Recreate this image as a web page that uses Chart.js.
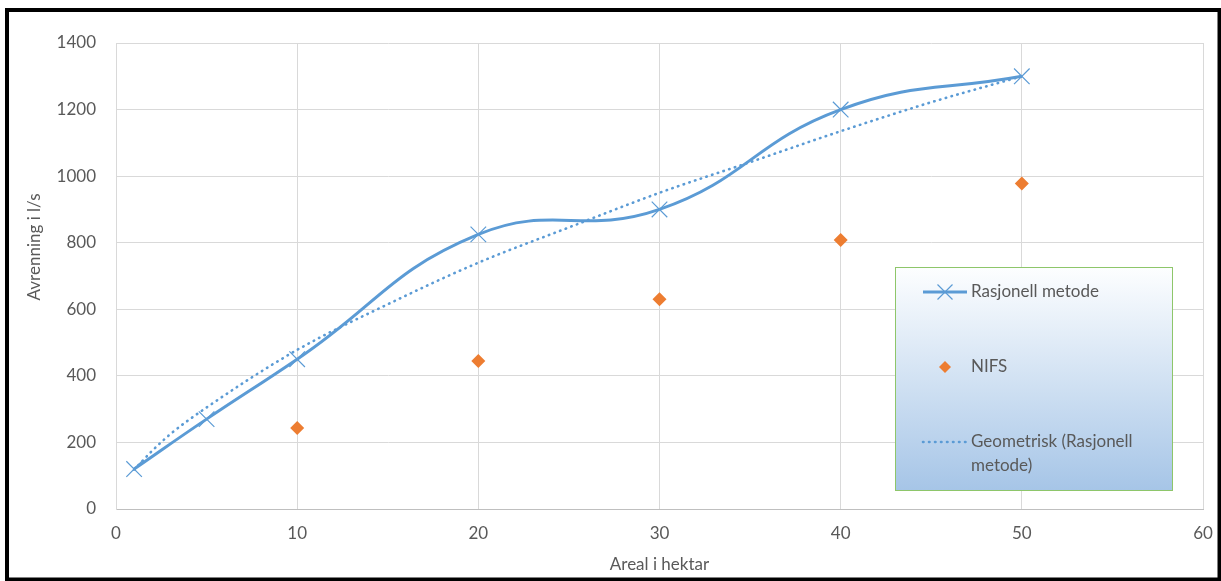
<!DOCTYPE html>
<html lang="no">
<head>
<meta charset="utf-8">
<title>Avrenning i l/s</title>
<script src="https://cdn.jsdelivr.net/npm/chart.js@4.4.1/dist/chart.umd.min.js"></script>
<style>
  html, body { margin: 0; padding: 0; background: #ffffff; }
  canvas { display: block; }
</style>
</head>
<body>
<canvas id="chart" width="1221" height="581"></canvas>
<script>
// Areal (hektar) og avrenning (l/s)
const areal = [1, 5, 10, 20, 30, 40, 50];
const rasjonell = [120, 270, 450, 825, 900, 1200, 1300];

const nifsAreal = [10, 20, 30, 40, 50];
const nifs = [243, 445, 630, 808, 978];

// Geometrisk trendlinje for rasjonell metode
const trendAreal = [1, 2, 3, 5, 10, 15, 20, 25, 30, 35, 40, 45, 50];
const trendVerdi = [118, 175, 225, 305, 478, 615, 740, 846, 950, 1042, 1135, 1222, 1300];

const xTicks = [0, 10, 20, 30, 40, 50, 60];
const yTicks = [0, 200, 400, 600, 800, 1000, 1200, 1400];

const seriesNames = ['Rasjonell metode', 'NIFS', 'Geometrisk (Rasjonell metode)'];
const xTitle = 'Areal i hektar';
const yTitle = 'Avrenning i l/s';

const BLUE = '#5b9bd5';
const ORANGE = '#ed7d31';
const TEXT = '#595959';
const FONT = 'Lato, "Open Sans", sans-serif';

const toPoints = (xs, ys) => xs.map((x, i) => ({ x: x, y: ys[i] }));

// Legend box drawn inside the plot area, with a soft blue gradient
const boxLegend = {
  id: 'boxLegend',
  afterDatasetsDraw(chart) {
    const ctx = chart.ctx;
    const x = 895.5, y = 267.5, w = 277, h = 223;
    ctx.save();
    const g = ctx.createLinearGradient(0, y, 0, y + h);
    g.addColorStop(0, '#fdfeff');
    g.addColorStop(0.5, '#d2e2f3');
    g.addColorStop(1, '#a6c5e7');
    ctx.fillStyle = g;
    ctx.fillRect(x, y, w, h);
    ctx.strokeStyle = '#8ec66a';
    ctx.lineWidth = 1;
    ctx.strokeRect(x, y, w, h);

    ctx.font = '17px ' + FONT;
    ctx.fillStyle = TEXT;
    ctx.textAlign = 'left';
    ctx.textBaseline = 'middle';
    const sx0 = 923, sx1 = 967, mx = 945, tx = 971;

    // Rasjonell metode
    const y1 = 292;
    ctx.strokeStyle = BLUE;
    ctx.lineWidth = 3;
    ctx.beginPath(); ctx.moveTo(sx0, y1); ctx.lineTo(sx1, y1); ctx.stroke();
    ctx.lineWidth = 1.2;
    ctx.beginPath();
    ctx.moveTo(mx - 7.5, y1 - 7.5); ctx.lineTo(mx + 7.5, y1 + 7.5);
    ctx.moveTo(mx + 7.5, y1 - 7.5); ctx.lineTo(mx - 7.5, y1 + 7.5);
    ctx.stroke();
    ctx.fillText(chart.data.datasets[0].label, tx, y1);

    // NIFS
    const y2 = 367;
    ctx.fillStyle = ORANGE;
    ctx.beginPath();
    ctx.moveTo(mx - 6, y2); ctx.lineTo(mx, y2 - 6); ctx.lineTo(mx + 6, y2); ctx.lineTo(mx, y2 + 6);
    ctx.closePath(); ctx.fill();
    ctx.fillStyle = TEXT;
    ctx.fillText(chart.data.datasets[1].label, tx, y2);

    // Geometrisk trendlinje
    const y3 = 442;
    ctx.strokeStyle = BLUE;
    ctx.lineWidth = 2.6;
    ctx.lineCap = 'round';
    ctx.setLineDash([0.5, 5.5]);
    ctx.beginPath(); ctx.moveTo(sx0, y3); ctx.lineTo(sx1, y3); ctx.stroke();
    ctx.setLineDash([]);
    const words = chart.data.datasets[2].label.split(' ');
    ctx.fillText(words.slice(0, 2).join(' '), tx, y3);
    ctx.fillText(words.slice(2).join(' '), tx, y3 + 24);
    ctx.restore();
  }
};

// Rotated y-axis title and the black outer frame
const frameAndTitle = {
  id: 'frameAndTitle',
  beforeDraw(chart) {
    const ctx = chart.ctx;
    ctx.save();
    ctx.fillStyle = '#ffffff';
    ctx.fillRect(0, 0, chart.width, chart.height);
    ctx.restore();
  },
  afterDraw(chart) {
    const ctx = chart.ctx;
    ctx.save();
    ctx.translate(35, 247);
    ctx.rotate(-Math.PI / 2);
    ctx.font = '17px ' + FONT;
    ctx.fillStyle = TEXT;
    ctx.textAlign = 'center';
    ctx.textBaseline = 'middle';
    ctx.fillText(yTitle, 0, 0);
    ctx.restore();

    ctx.save();
    ctx.strokeStyle = '#000000';
    ctx.lineWidth = 4;
    ctx.strokeRect(7, 10, 1212.5, 569.5);
    ctx.restore();
  }
};

new Chart(document.getElementById('chart'), {
  type: 'scatter',
  data: {
    datasets: [
      {
        label: seriesNames[0],
        data: toPoints(areal, rasjonell),
        showLine: true,
        borderColor: BLUE,
        borderWidth: 3,
        tension: 0.45,
        pointStyle: 'crossRot',
        pointRadius: 11,
        pointBorderWidth: 1.2,
        pointBorderColor: BLUE,
        pointBackgroundColor: BLUE,
        order: 2
      },
      {
        label: seriesNames[1],
        data: toPoints(nifsAreal, nifs),
        showLine: false,
        pointStyle: 'rectRot',
        pointRadius: 7,
        pointBorderWidth: 0,
        pointBackgroundColor: ORANGE,
        pointBorderColor: ORANGE,
        order: 3
      },
      {
        label: seriesNames[2],
        data: toPoints(trendAreal, trendVerdi),
        showLine: true,
        borderColor: BLUE,
        borderWidth: 2.6,
        borderDash: [0.5, 5.5],
        borderCapStyle: 'round',
        cubicInterpolationMode: 'monotone',
        pointRadius: 0,
        order: 1
      }
    ]
  },
  options: {
    responsive: false,
    devicePixelRatio: 1,
    animation: false,
    layout: { padding: { top: 43, right: 18, left: 0, bottom: 0 } },
    plugins: {
      legend: { display: false },
      tooltip: { enabled: false }
    },
    scales: {
      x: {
        type: 'linear',
        min: 0,
        max: 60,
        afterBuildTicks(scale) { scale.ticks = xTicks.map(v => ({ value: v })); },
        afterFit(scale) {
          scale.height = 72;
          scale.paddingLeft = 0;
          scale.paddingRight = 0;
        },
        grid: { color: '#d9d9d9', lineWidth: 1, drawTicks: false },
        border: { color: '#bfbfbf', width: 1 },
        ticks: {
          color: TEXT,
          font: { family: FONT, size: 17 },
          padding: 14,
          callback: v => String(v)
        },
        title: {
          display: true,
          text: xTitle,
          color: TEXT,
          font: { family: FONT, size: 17 },
          padding: { top: 0, bottom: 6 }
        }
      },
      y: {
        type: 'linear',
        min: 0,
        max: 1400,
        afterBuildTicks(scale) { scale.ticks = yTicks.map(v => ({ value: v })); },
        afterFit(scale) {
          scale.width = 116;
          scale.paddingTop = 0;
          scale.paddingBottom = 0;
        },
        grid: { color: '#d9d9d9', lineWidth: 1, drawTicks: false },
        border: { color: '#d9d9d9', width: 1 },
        ticks: {
          color: TEXT,
          font: { family: FONT, size: 17 },
          padding: 20,
          callback: v => String(v)
        }
      }
    }
  },
  plugins: [frameAndTitle, boxLegend]
});
</script>
</body>
</html>
